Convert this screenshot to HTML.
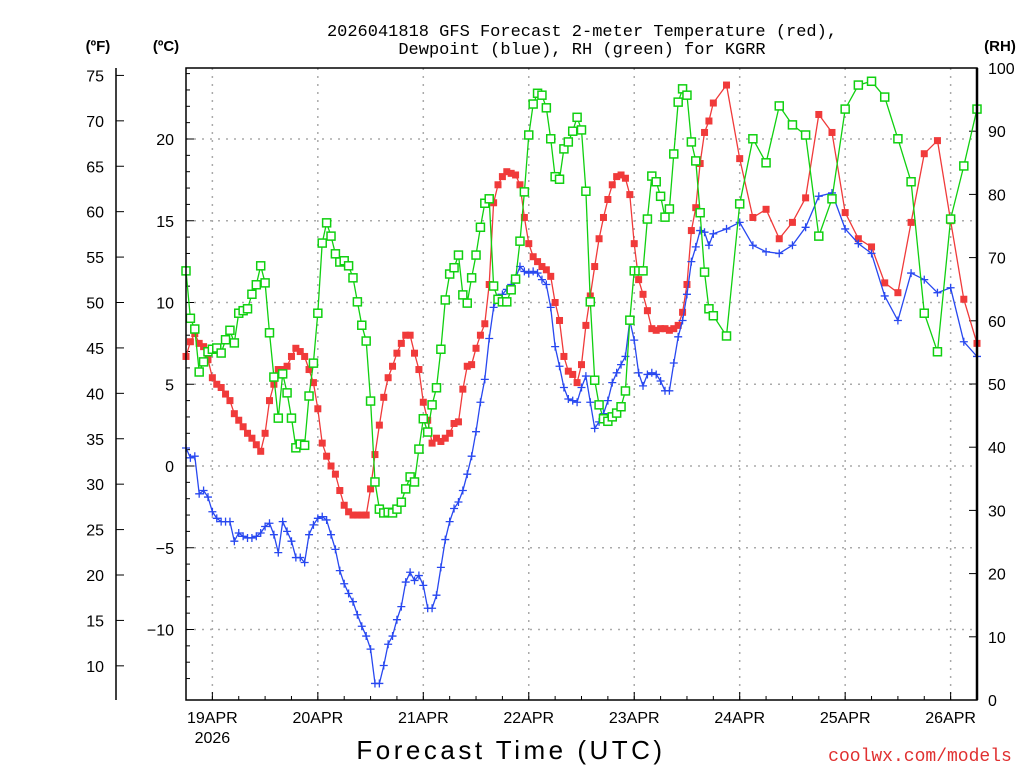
<!DOCTYPE html>
<html><head><meta charset="utf-8">
<style>
html,body{margin:0;padding:0;background:#fff;}
svg text{font-family:"Liberation Sans",sans-serif;}
</style></head>
<body>
<svg id="chart" width="1024" height="768" viewBox="0 0 1024 768" xmlns="http://www.w3.org/2000/svg">
<rect x="0" y="0" width="1024" height="768" fill="#fff"/>
<text x="582" y="36" font-size="17" text-anchor="middle" fill="#000" style="font-family:'Liberation Mono',monospace">2026041818 GFS Forecast 2-meter Temperature (red),</text>
<text x="582" y="54" font-size="17" text-anchor="middle" fill="#000" style="font-family:'Liberation Mono',monospace">Dewpoint (blue), RH (green) for KGRR</text>
<text x="98" y="51" font-size="15" font-weight="bold" text-anchor="middle">(ºF)</text>
<text x="166" y="51" font-size="15" font-weight="bold" text-anchor="middle">(ºC)</text>
<text x="1000" y="51" font-size="15" font-weight="bold" text-anchor="middle">(RH)</text>
<text x="511" y="759" font-size="26" text-anchor="middle" letter-spacing="3.5">Forecast Time (UTC)</text>
<text x="920" y="761" font-size="18" text-anchor="middle" fill="#e03030" style="font-family:'Liberation Mono',monospace">coolwx.com/models</text>
<g id="grid"></g>
<g id="axes"></g>
<g id="series"></g>
<rect x="186" y="68" width="791" height="632" fill="none" stroke="#000" stroke-width="1.5"/>
<line x1="977" y1="68" x2="977" y2="700" stroke="#000" stroke-width="2.5"/>
</svg>
<script>
const hoursHourly = Array.from({length:121},(_,i)=>i);
const hours3h = [123,126,129,132,135,138,141,144,147,150,153,156,159,162,165,168,171,174,177,180];
const tempC = [6.7,7.6,8.1,7.5,7.3,6.5,5.4,5.0,4.8,4.4,
4.0,3.2,2.8,2.4,2.0,1.7,1.3,0.9,2.0,4.0,
5.0,5.9,5.9,6.1,6.7,7.2,7.0,6.7,5.9,5.1,
3.5,1.4,0.6,0.0,-0.5,-1.5,-2.4,-2.8,-3.0,-3.0,
-3.0,-3.0,-1.4,0.7,2.5,4.2,5.4,6.1,6.9,7.5,
8.0,8.0,6.9,5.9,3.9,2.8,1.4,1.7,1.5,1.7,
2.0,2.6,2.7,4.7,6.1,6.2,7.2,8.0,8.7,11.1,
16.1,17.2,17.7,18.0,17.9,17.8,17.2,15.2,13.6,12.8,
12.5,12.2,12.0,11.6,10.0,8.9,6.7,5.8,5.6,5.1,
6.2,8.6,10.4,12.2,13.9,15.2,16.3,17.2,17.7,17.8,
17.6,16.6,13.6,11.4,10.5,9.5,8.4,8.3,8.4,8.4,
8.3,8.4,8.6,9.4,11.1,14.4,15.8,18.5,20.4,21.1,
22.2,
23.3,18.8,15.2,15.7,13.9,14.9,16.4,21.5,20.4,15.5,13.9,13.4,11.2,10.6,14.9,19.1,19.9,15.0,10.2,7.5];
const dewC = [1.1,0.5,0.6,-1.7,-1.5,-1.9,-2.8,-3.2,-3.4,-3.4,
-3.4,-4.6,-4.1,-4.3,-4.4,-4.4,-4.3,-4.1,-3.7,-3.5,
-4.2,-5.3,-3.4,-4.0,-4.6,-5.6,-5.6,-5.9,-4.2,-3.6,
-3.2,-3.1,-3.3,-4.2,-5.1,-6.4,-7.2,-7.8,-8.3,-9.1,
-9.8,-10.4,-11.2,-13.3,-13.3,-12.2,-10.9,-10.4,-9.4,-8.6,
-7.1,-6.5,-7.0,-6.7,-7.3,-8.7,-8.7,-7.9,-6.2,-4.5,
-3.4,-2.6,-2.2,-1.5,-0.5,0.6,2.1,3.9,5.3,7.8,
9.7,10.3,10.5,10.8,11.1,11.5,12.2,11.9,11.8,11.9,
11.8,11.4,11.1,9.7,7.3,6.1,4.8,4.1,4.0,3.9,
4.8,5.5,3.9,2.3,2.7,3.2,4.0,5.1,5.7,6.2,
6.7,8.9,7.7,5.7,4.9,5.6,5.7,5.6,5.2,4.6,
4.6,6.3,7.9,8.9,10.5,12.5,13.4,14.4,14.3,13.5,
14.2,
14.5,14.9,13.5,13.1,13.0,13.5,14.6,16.5,16.7,14.5,13.6,13.0,10.4,8.9,11.8,11.4,10.6,10.9,7.6,6.7];
const rhPct = [67.9,60.4,58.7,51.9,53.5,55.1,55.5,55.7,54.9,57.0,
58.5,56.5,61.2,61.6,61.9,64.2,65.7,68.7,66.0,58.1,
51.1,44.6,51.6,48.6,44.6,39.9,40.5,40.3,48.1,53.3,
61.2,72.3,75.5,73.4,70.6,69.3,69.5,68.7,66.8,63.0,
59.3,56.8,47.3,34.5,30.2,29.6,29.7,29.6,30.2,31.3,
33.4,35.3,34.5,39.7,44.5,42.4,46.7,49.4,55.5,63.3,
67.4,68.4,70.4,64.1,62.8,66.8,70.4,74.8,78.6,79.3,
65.5,63.4,63.0,63.0,64.9,66.6,72.6,80.4,89.4,94.3,
96.0,95.7,93.7,88.8,82.8,82.4,87.2,88.3,90.0,92.2,
90.2,80.5,63.0,50.6,46.7,44.5,44.1,44.8,45.4,46.4,
48.9,60.1,67.9,67.9,67.9,76.1,82.9,82.0,79.7,76.4,
77.7,86.4,94.6,96.7,95.7,88.3,85.3,77.1,67.7,61.9,
60.8,
57.6,78.5,88.8,85.0,94.0,91.0,89.4,73.4,79.3,93.5,97.3,97.9,95.4,88.8,82.0,61.2,55.1,76.1,84.5,93.5];
const dayLabels = ['19APR','20APR','21APR','22APR','23APR','24APR','25APR','26APR'];
const dayHours = [6,30,54,78,102,126,150,174];
const fTicks = [10,15,20,25,30,35,40,45,50,55,60,65,70,75];
const cTicks = [-10,-5,0,5,10,15,20];
const rhTicks = [0,10,20,30,40,50,60,70,80,90,100];

const NS='http://www.w3.org/2000/svg';
const X0=186, X1=977, HMAX=180;
const xOf = h => X0 + (X1-X0)*h/HMAX;
const yC = c => 466 - c*16.35;
const yF = f => yC((f-32)*5/9);
const yRH = r => 700 - r*6.32;
function mk(tag, attrs, parent){const e=document.createElementNS(NS,tag);for(const k in attrs)e.setAttribute(k,attrs[k]);parent.appendChild(e);return e;}
const grid=document.getElementById('grid'), axes=document.getElementById('axes'), series=document.getElementById('series');

cTicks.forEach(c=>{
  const l=mk('line',{x1:X0,x2:X1,y1:yC(c),y2:yC(c),stroke:'#aaa','stroke-dasharray':'2,6','stroke-width':1.5},grid);
  
  
  const t=mk('text',{x:174,y:yC(c)+6,'font-size':16,'text-anchor':'end'},axes);
  t.textContent=(c<0?'\u2212'+(-c):c);
  
  
  mk('line',{x1:X0,x2:X0+8,y1:yC(c),y2:yC(c),stroke:'#000'},axes);
});
for(let c=-13;c<=24;c++){ if(c%5) mk('line',{x1:X0,x2:X0+4,y1:yC(c),y2:yC(c),stroke:'#000'},axes); }
dayHours.forEach((h,i)=>{
  const l=mk('line',{x1:xOf(h),x2:xOf(h),y1:68,y2:700,stroke:'#aaa','stroke-dasharray':'2,6','stroke-width':1.5},grid);
  
  
  const t=mk('text',{x:xOf(h),y:723,'font-size':16,'text-anchor':'middle'},axes);
  t.textContent=dayLabels[i];
  
  
  mk('line',{x1:xOf(h),x2:xOf(h),y1:700,y2:692,stroke:'#000'},axes);
});
for(let h=0;h<=HMAX;h+=6){ mk('line',{x1:xOf(h),x2:xOf(h),y1:700,y2:696,stroke:'#000'},axes); }
const yr=mk('text',{x:xOf(6),y:743,'font-size':16,'text-anchor':'middle'},axes);
yr.textContent='2026';



const fAxis=mk('line',{x1:116,x2:116,y1:68,y2:700,stroke:'#000','stroke-width':1.5},axes);


fTicks.forEach(f=>{
  mk('line',{x1:116,x2:124,y1:yF(f),y2:yF(f),stroke:'#000'},axes);
  const t=mk('text',{x:104,y:yF(f)+6,'font-size':16,'text-anchor':'end'},axes);
  t.textContent=f;
  
  
});
rhTicks.forEach(r=>{
  mk('line',{x1:X1,x2:X1-8,y1:yRH(r),y2:yRH(r),stroke:'#000'},axes);
  const t=mk('text',{x:988,y:yRH(r)+6,'font-size':16,'text-anchor':'start'},axes);
  t.textContent=r;
  
  
});

const allHours = hoursHourly.concat(hours3h);
function drawSeries(vals, yfn, color, marker, name){
  const n=Math.min(vals.length, allHours.length);
  const pts=[];
  for(let i=0;i<n;i++) pts.push(xOf(allHours[i]).toFixed(1)+','+yfn(vals[i]).toFixed(1));
  const pl=mk('polyline',{points:pts.join(' '),fill:'none',stroke:color,'stroke-width':1.3},series);
  
  
  const g=mk('g',{},series);
  
  
  for(let i=0;i<n;i++){
    const x=xOf(allHours[i]), y=yfn(vals[i]);
    if(marker==='filled') mk('rect',{x:x-3.5,y:y-3.5,width:7,height:7,fill:color},g);
    else if(marker==='open') mk('rect',{x:x-4,y:y-4,width:8,height:8,fill:'#fff',stroke:color,'stroke-width':1.5},g);
    else { mk('path',{d:`M${x-4} ${y}H${x+4}M${x} ${y-4}V${y+4}`,stroke:color,'stroke-width':1.3},g); }
  }
}
drawSeries(tempC, yC, '#f03a3a', 'filled', 'temperature');
drawSeries(dewC, yC, '#2848f0', 'plus', 'dewpoint');
drawSeries(rhPct, yRH, '#10d010', 'open', 'relative-humidity');
</script>
</body></html>
